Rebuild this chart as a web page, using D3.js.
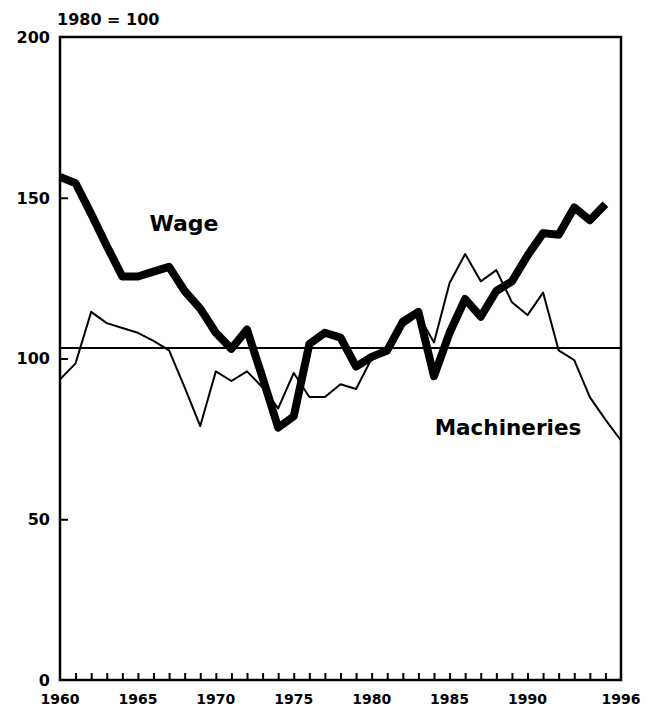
<!DOCTYPE html>
<meta charset="utf-8">
<head>
	<title>Wage and Machineries</title>
	<script type="text/javascript" src="https://cdn.jsdelivr.net/npm/d3@7"></script>
	<style>
		body { margin: 0; background: #fff; }
		.lbl { font-family: "DejaVu Sans", sans-serif; font-weight: bold; fill: #000; }
	</style>
</head>
<body>
	<div id="chart"></div>
	<script>
		// index values, 1980 = 100
		var wageYears = d3.range(1960, 1996);
		var wage = [156.5, 154.5, 145, 135, 125.5, 125.5, 127, 128.5, 121, 115.5,
			108, 103, 109, 94, 78.5, 82, 104.5, 108, 106.5, 97.5,
			100.5, 102.5, 111.5, 114.5, 94.5, 108, 118.5, 113, 121, 124,
			132, 139, 138.5, 147, 143, 148];
		var machYears = d3.range(1960, 1997);
		var machineries = [93.5, 98.5, 114.5, 111, 109.5, 108, 105.5, 102.5, 91, 79,
			96, 93, 96, 91, 84.5, 95.5, 88, 88, 92, 90.5,
			100, 103, 110, 113.5, 105, 123.5, 132.5, 124, 127.5, 117.5,
			113.5, 120.5, 102.5, 99.5, 88, 81, 74.5];
		var refLevel = 103.3;
		var yTicks = [0, 50, 100, 150, 200];
		var xLabels = [1960, 1965, 1970, 1975, 1980, 1985, 1990, 1996];

		var width = 647, height = 710;
		var margin = { top: 37, right: 26, bottom: 30, left: 60 };

		var svg = d3.select("#chart").append("svg")
			.attr("width", width)
			.attr("height", height);

		var x = d3.scaleLinear().domain([1960, 1996]).range([margin.left, width - margin.right]);
		var y = d3.scaleLinear().domain([0, 200]).range([height - margin.bottom, margin.top]);

		// frame
		svg.append("rect")
			.attr("x", x(1960)).attr("y", y(200))
			.attr("width", x(1996) - x(1960)).attr("height", y(0) - y(200))
			.attr("fill", "none").attr("stroke", "#000").attr("stroke-width", 2.5);

		// year ticks along the bottom (inside)
		svg.append("g")
			.attr("transform", "translate(0," + y(0) + ")")
			.call(d3.axisTop(x).tickValues(d3.range(1961, 1996)).tickSize(7).tickFormat(""))
			.call(function (g) { g.select(".domain").remove(); })
			.selectAll("line").attr("stroke-width", 2);

		svg.selectAll(".xlab")
			.data(xLabels)
			.enter().append("text")
			.attr("class", "lbl")
			.attr("x", function (d) { return x(d); })
			.attr("y", y(0) + 24)
			.attr("text-anchor", "middle")
			.style("font-size", "14px")
			.text(function (d) { return d; });

		// value ticks on the left (inside)
		svg.append("g")
			.attr("transform", "translate(" + x(1960) + ",0)")
			.call(d3.axisRight(y).tickValues([50, 100, 150]).tickSize(8).tickFormat(""))
			.call(function (g) { g.select(".domain").remove(); })
			.selectAll("line").attr("stroke-width", 2);

		svg.selectAll(".ylab")
			.data(yTicks)
			.enter().append("text")
			.attr("class", "lbl")
			.attr("x", x(1960) - 10)
			.attr("y", function (d) { return y(d); })
			.attr("dy", "0.36em")
			.attr("text-anchor", "end")
			.style("font-size", "16px")
			.text(function (d) { return d; });

		svg.append("text")
			.attr("class", "lbl")
			.attr("x", 57)
			.attr("y", 25)
			.style("font-size", "16px")
			.text("1980 = 100");

		// reference line
		svg.append("line")
			.attr("x1", x(1960)).attr("x2", x(1996))
			.attr("y1", y(refLevel)).attr("y2", y(refLevel))
			.attr("stroke", "#000").attr("stroke-width", 2);

		var line = d3.line()
			.x(function (d) { return x(d[0]); })
			.y(function (d) { return y(d[1]); });

		svg.append("path")
			.datum(d3.zip(machYears, machineries))
			.attr("d", line)
			.attr("fill", "none")
			.attr("stroke", "#000")
			.attr("stroke-width", 2)
			.attr("stroke-linejoin", "round");

		svg.append("path")
			.datum(d3.zip(wageYears, wage))
			.attr("d", line)
			.attr("fill", "none")
			.attr("stroke", "#000")
			.attr("stroke-width", 8)
			.attr("stroke-linejoin", "round");

		// series labels
		svg.append("text")
			.attr("class", "lbl")
			.attr("x", 184).attr("y", 231)
			.attr("text-anchor", "middle")
			.style("font-size", "22px")
			.text("Wage");

		svg.append("text")
			.attr("class", "lbl")
			.attr("x", 508).attr("y", 435)
			.attr("text-anchor", "middle")
			.style("font-size", "21.5px")
			.text("Machineries");
	</script>
</body>
</html>
